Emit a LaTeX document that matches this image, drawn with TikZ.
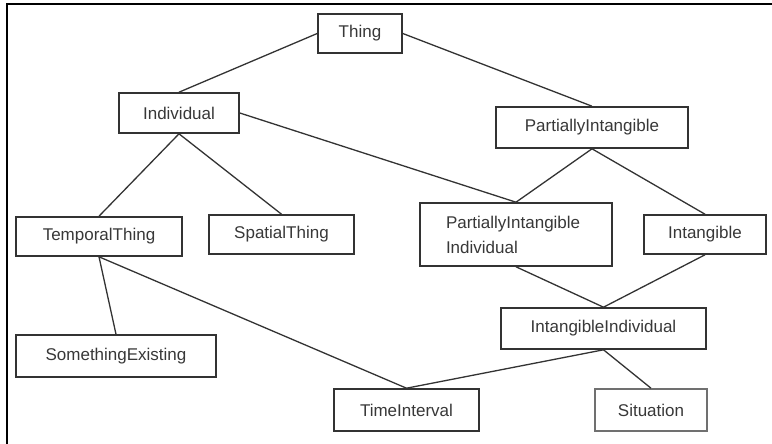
\documentclass[tikz,border=0pt]{standalone}
\usepackage{fontspec}
\setmainfont{Liberation Sans}
\definecolor{boxline}{HTML}{333333}
\definecolor{lightline}{HTML}{707070}
\definecolor{label}{HTML}{383838}
\begin{document}
\begin{tikzpicture}[x=1pt,y=-1pt,
  concept/.style={draw=boxline, line width=1.6pt, fill=white, text=label,
    font=\fontsize{17}{25}\selectfont, inner sep=0pt, anchor=center},
  link/.style={draw=boxline, line width=1.3pt}]
  \useasboundingbox (0,0) rectangle (772,444);
  \fill[white] (0,0) rectangle (772,444);
  % frame: top and left rules only
  \draw[line width=2.6pt, black] (7,444) -- (7,4) -- (772,4);

  % concepts
  \node[concept, minimum width=84pt,  minimum height=39pt] (thing) at (360,33.5) {Thing};
  \node[concept, minimum width=120pt, minimum height=40pt] (indiv) at (179,113) {Individual};
  \node[concept, minimum width=192pt, minimum height=41pt] (pint)  at (592,127.5) {PartiallyIntangible};
  \node[concept, minimum width=166pt, minimum height=39pt] (temp)  at (99,236.5) {TemporalThing};
  \node[concept, minimum width=145pt, minimum height=39pt] (spat)  at (281.5,234.5) {SpatialThing};
  \node[concept, minimum height=63pt, text width=140pt, align=left, inner xsep=26pt] (pindiv) at (516,234.5) {PartiallyIntangible\\Individual};
  \node[concept, minimum width=122pt, minimum height=39pt] (intang) at (705,234.5) {Intangible};
  \node[concept, minimum width=205pt, minimum height=41pt] (iindiv) at (603.5,328.5) {IntangibleIndividual};
  \node[concept, minimum width=200pt, minimum height=42pt] (exist) at (116,356) {SomethingExisting};
  \node[concept, minimum width=145pt, minimum height=42pt] (tint)  at (406.5,410) {TimeInterval};
  \node[concept, draw=lightline, minimum width=112pt, minimum height=42pt] (sit) at (651,410) {Situation};

  % subsumption links
  \draw[link] (thing.west) -- (indiv.north);
  \draw[link] (thing.east) -- (pint.north);
  \draw[link] (indiv.east) -- (pindiv.north);
  \draw[link] (indiv.south) -- (temp.north);
  \draw[link] (indiv.south) -- (spat.north);
  \draw[link] (pint.south) -- (pindiv.north);
  \draw[link] (pint.south) -- (intang.north);
  \draw[link] (pindiv.south) -- (iindiv.north);
  \draw[link] (intang.south) -- (iindiv.north);
  \draw[link] (temp.south) -- (exist.north);
  \draw[link] (temp.south) -- (tint.north);
  \draw[link] (iindiv.south) -- (tint.north);
  \draw[link] (iindiv.south) -- (sit.north);
\end{tikzpicture}
\end{document}
